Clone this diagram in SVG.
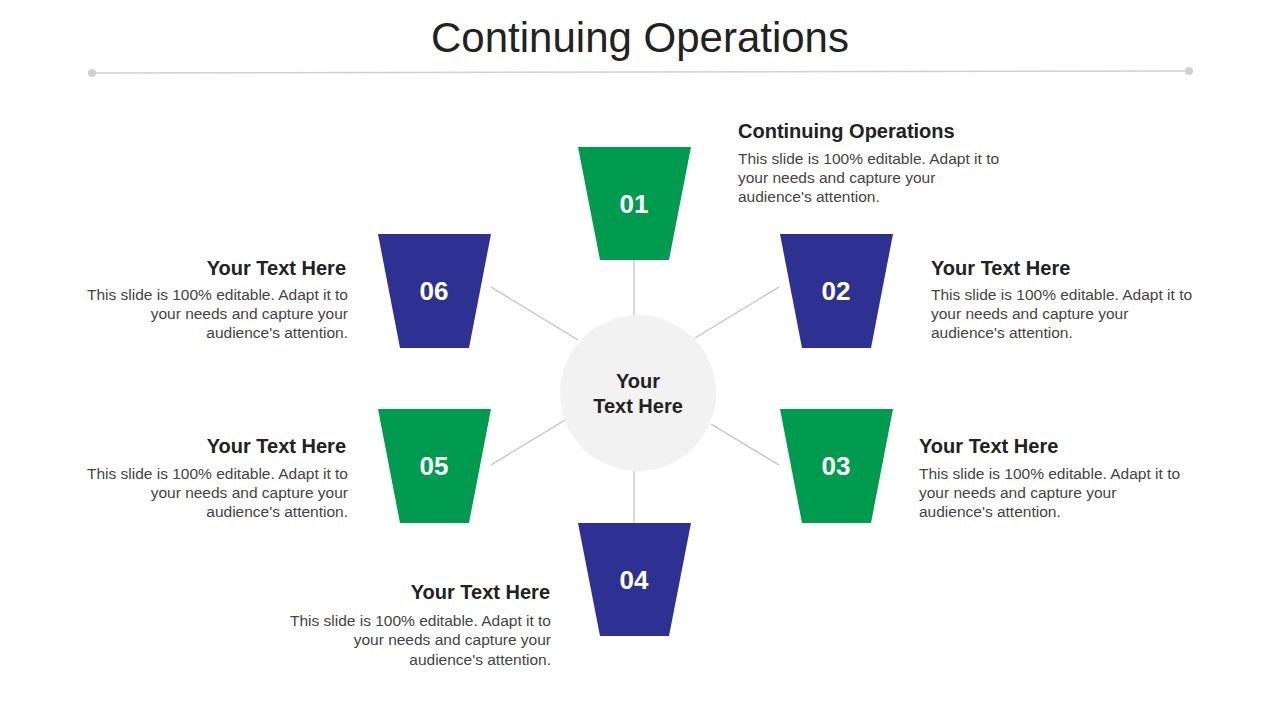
<svg xmlns="http://www.w3.org/2000/svg" width="1280" height="720" viewBox="0 0 1280 720">
<style>
.g{fill:#009B4E}.b{fill:#2E3192}
.num{font-family:"Liberation Sans",Arial,sans-serif;font-weight:bold;font-size:26px;fill:#fff;text-anchor:middle}
.h{font-family:"Liberation Sans",Arial,sans-serif;font-weight:bold;font-size:20px;fill:#222}
.t{font-family:"Liberation Sans",Arial,sans-serif;font-size:15.5px;fill:#444}
.c{stroke:#BFBFBF;stroke-width:1.2;fill:none}
</style>
<rect width="1280" height="720" fill="#fff"/>
<text x="640" y="52" text-anchor="middle" font-family="Liberation Sans,Arial,sans-serif" font-size="42" fill="#222">Continuing Operations</text>
<line x1="92" y1="73" x2="1189" y2="71" stroke="#D0D0D0" stroke-width="1.5"/>
<circle cx="92" cy="73" r="4" fill="#D0D0D0"/><circle cx="1189" cy="71" r="4" fill="#D0D0D0"/>
<g id="connectors" class="c">
<line x1="634" y1="260" x2="634" y2="315"/>
<line x1="634" y1="471" x2="634" y2="523"/>
<line x1="491" y1="287" x2="578" y2="340"/>
<line x1="779" y1="287" x2="695" y2="338"/>
<line x1="491" y1="465" x2="565" y2="420"/>
<line x1="779" y1="465" x2="711" y2="424"/>
</g>
<g id="center"><circle cx="638" cy="393" r="78" fill="#F2F2F2"/>
<text x="638" y="388" class="h" text-anchor="middle" font-size="19">Your</text>
<text x="638" y="413" class="h" text-anchor="middle" font-size="19">Text Here</text></g>
<g id="n01"><polygon class="g" points="578,147 691,147 669,260 600,260"/><text class="num" x="634" y="213">01</text></g>
<g id="n02"><polygon class="b" points="780,234 893,234 871,348 802,348"/><text class="num" x="836" y="300">02</text></g>
<g id="n03"><polygon class="g" points="780,409 893,409 871,523 802,523"/><text class="num" x="836" y="475">03</text></g>
<g id="n04"><polygon class="b" points="578,523 691,523 669,636 600,636"/><text class="num" x="634" y="589">04</text></g>
<g id="n05"><polygon class="g" points="378,409 491,409 469,523 400,523"/><text class="num" x="434" y="475">05</text></g>
<g id="n06"><polygon class="b" points="378,234 491,234 469,348 400,348"/><text class="num" x="434" y="300">06</text></g>
<g id="l01"><text class="h" x="738" y="138">Continuing Operations</text>
<text class="t" x="738" y="164">This slide is 100% editable. Adapt it to</text><text class="t" x="738" y="183">your needs and capture your</text><text class="t" x="738" y="202">audience's attention.</text></g>
<g id="l02"><text class="h" x="931" y="275">Your Text Here</text>
<text class="t" x="931" y="300">This slide is 100% editable. Adapt it to</text><text class="t" x="931" y="319">your needs and capture your</text><text class="t" x="931" y="338">audience's attention.</text></g>
<g id="l03"><text class="h" x="919" y="453">Your Text Here</text>
<text class="t" x="919" y="479">This slide is 100% editable. Adapt it to</text><text class="t" x="919" y="498">your needs and capture your</text><text class="t" x="919" y="517">audience's attention.</text></g>
<g id="l04" text-anchor="end"><text class="h" x="550" y="599">Your Text Here</text>
<text class="t" x="551" y="626">This slide is 100% editable. Adapt it to</text><text class="t" x="551" y="645">your needs and capture your</text><text class="t" x="551" y="665">audience's attention.</text></g>
<g id="l05" text-anchor="end"><text class="h" x="346" y="453">Your Text Here</text>
<text class="t" x="348" y="479">This slide is 100% editable. Adapt it to</text><text class="t" x="348" y="498">your needs and capture your</text><text class="t" x="348" y="517">audience's attention.</text></g>
<g id="l06" text-anchor="end"><text class="h" x="346" y="275">Your Text Here</text>
<text class="t" x="348" y="300">This slide is 100% editable. Adapt it to</text><text class="t" x="348" y="319">your needs and capture your</text><text class="t" x="348" y="338">audience's attention.</text></g>
</svg>
